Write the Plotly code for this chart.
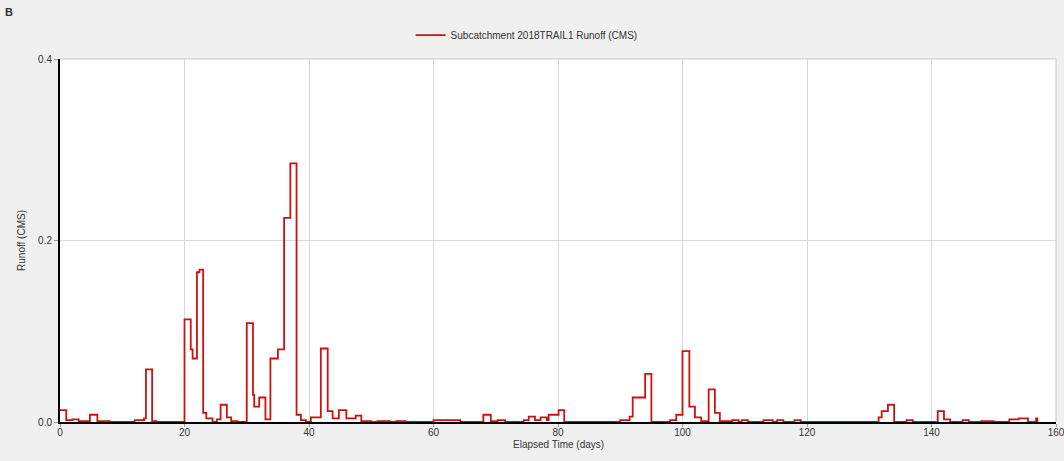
import plotly.graph_objects as go

# Step-function breakpoints (elapsed time in days, runoff in CMS)
time_days = [0, 1.0, 2.0, 3.0, 4.8, 6.0, 8.0, 12.0, 13.5, 13.8, 14.8, 15.5,
             20.0, 21.0, 21.3, 22.0, 22.4, 23.0, 23.5, 24.5, 25.2, 25.8, 26.8, 27.5, 28.5,
             30.0, 31.0, 31.2, 32.0, 33.0, 33.8, 35.0, 36.0, 37.0, 38.0, 38.7, 39.5,
             40.3, 41.9, 43.0, 43.8, 44.8, 46.0, 47.5, 48.4, 50.0, 51.0, 53.0, 54.0, 55.5,
             60.0, 64.3, 68.0, 69.2, 70.3, 71.5, 74.5, 75.3, 76.3, 77.2, 78.2, 78.5, 80.1, 81.0,
             90.0, 91.5, 92.0, 94.0, 95.0, 98.0, 99.0, 100.0, 101.1, 102.0, 103.0,
             104.2, 105.2, 106.0, 108.0, 109.0, 109.5, 110.5, 113.0, 114.5, 115.2, 116.2,
             118.0, 119.0, 131.5, 132.0, 133.0, 134.0, 136.0, 137.0, 141.0, 142.0, 143.0,
             145.0, 146.0, 148.0, 150.0, 152.5, 154.0, 155.5, 156.8, 157.0]
runoff_cms = [0.013, 0.002, 0.003, 0.001, 0.008, 0.001, 0.0, 0.002, 0.004, 0.058, 0.001, 0.0,
              0.113, 0.080, 0.070, 0.165, 0.168, 0.010, 0.004, 0.0, 0.003, 0.019, 0.005, 0.001, 0.0,
              0.109, 0.030, 0.017, 0.027, 0.003, 0.070, 0.080, 0.225, 0.285, 0.008, 0.002, 0.0,
              0.005, 0.081, 0.012, 0.004, 0.013, 0.004, 0.007, 0.001, 0.0, 0.001, 0.0, 0.001, 0.0,
              0.002, 0.0, 0.008, 0.001, 0.002, 0.0, 0.002, 0.006, 0.002, 0.005, 0.002, 0.008, 0.013, 0.0,
              0.002, 0.006, 0.027, 0.053, 0.0, 0.002, 0.008, 0.078, 0.017, 0.005, 0.001,
              0.036, 0.010, 0.001, 0.002, 0.0, 0.002, 0.0, 0.002, 0.0, 0.002, 0.0,
              0.002, 0.0, 0.005, 0.012, 0.019, 0.0, 0.002, 0.0, 0.012, 0.003, 0.0,
              0.002, 0.0, 0.001, 0.0, 0.003, 0.004, 0.0, 0.004, 0.0]

series_name = "Subcatchment 2018TRAIL1 Runoff (CMS)"
x_title = "Elapsed Time (days)"
y_title = "Runoff (CMS)"
x_ticks = [0, 20, 40, 60, 80, 100, 120, 140, 160]
y_ticks = [0.0, 0.2, 0.4]

font_family = "Liberation Sans, Arial, sans-serif"

fig = go.Figure()
fig.add_trace(go.Scatter(
    x=time_days, y=runoff_cms, mode="lines", name=series_name,
    line=dict(color="#cc1111", width=1.8, shape="hv"),
    showlegend=True,
))

fig.update_layout(
    width=1064, height=461,
    paper_bgcolor="#f0f0f0", plot_bgcolor="#ffffff",
    margin=dict(l=60, r=8, t=59, b=39, autoexpand=False),
    font=dict(family=font_family, size=10, color="#333333"),
    showlegend=True,
    legend=dict(orientation="h", x=0.352, xanchor="left", y=1.066, yanchor="middle",
                bgcolor="rgba(0,0,0,0)", itemwidth=30, font=dict(size=10, color="#333333")),
    xaxis=dict(range=[0, 160], tickvals=x_ticks, ticktext=[str(v) for v in x_ticks],
               showgrid=True, gridcolor="#d9d9d9", gridwidth=1,
               zeroline=False, showline=True, linecolor="#000000", linewidth=2,
               ticks="outside", ticklen=3, tickcolor="#999999",
               ticklabelstandoff=-3, ticklabeloverflow="allow"),
    yaxis=dict(range=[0, 0.4], tickvals=y_ticks, ticktext=["0.0", "0.2", "0.4"],
               showgrid=True, gridcolor="#d9d9d9", gridwidth=1,
               zeroline=False, showline=True, linecolor="#000000", linewidth=2,
               ticks="outside", ticklen=4, tickcolor="#999999",
               title=dict(text=y_title, standoff=11, font=dict(size=10))),
)

# x-axis title placed just below the tick labels
fig.add_annotation(text=x_title, xref="paper", yref="paper", x=0.5, y=-0.062,
                   xanchor="center", yanchor="middle", showarrow=False,
                   font=dict(size=10, color="#333333"))

# light gray frame on top and right sides
fig.add_shape(type="line", xref="paper", yref="paper", x0=0, x1=1, y0=1, y1=1,
              line=dict(color="#c8c8c8", width=1))
fig.add_shape(type="line", xref="paper", yref="paper", x0=1, x1=1, y0=0, y1=1,
              line=dict(color="#c8c8c8", width=1))

fig.add_annotation(text="<b>B</b>", xref="paper", yref="paper", x=-0.051, y=1.13,
                   xanchor="center", yanchor="middle", showarrow=False,
                   font=dict(size=11, color="#333333"))

fig.write_html("out.html", config={"displayModeBar": False},
               post_script="document.body.style.margin='0';document.body.style.background='#f0f0f0';")
